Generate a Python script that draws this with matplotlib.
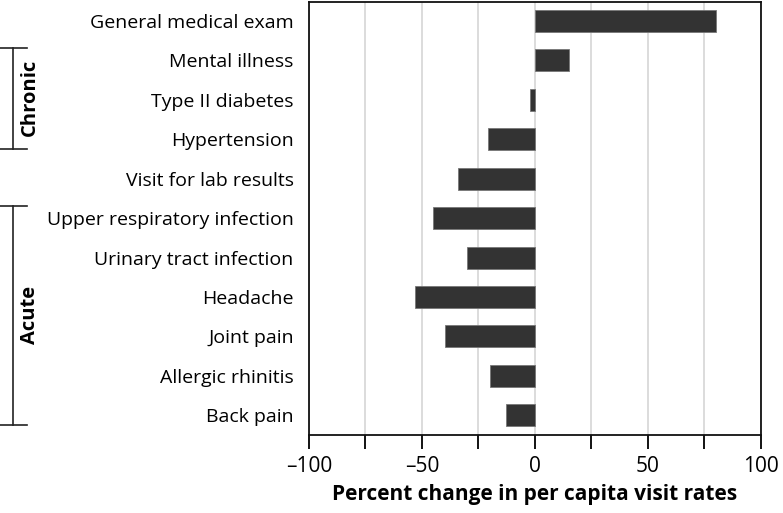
import numpy as np
import matplotlib
matplotlib.use("Agg")
import matplotlib.pyplot as plt
import matplotlib.transforms as mtransforms

plt.rcParams['font.family'] = ['Open Sans', 'DejaVu Sans']

conditions = ["General medical exam", "Mental illness", "Type II diabetes",
              "Hypertension", "Visit for lab results", "Upper respiratory infection",
              "Urinary tract infection", "Headache", "Joint pain",
              "Allergic rhinitis", "Back pain"]
pct_change = [80, 15, -2, -21, -34, -45, -30, -53, -40, -20, -13]

# brackets: (label, first row, last row)
groups = [("Chronic", 1, 3), ("Acute", 5, 10)]

fig = plt.figure(figsize=(7.83, 5.13), dpi=100)
ax = fig.add_axes([0.3946, 0.152, 0.5773, 0.844])

y = np.arange(len(conditions))
ax.barh(y, pct_change, height=0.56, color='#333333', edgecolor='#777777',
        linewidth=0.6, zorder=3)

ax.set_xlim(-100, 100)
ax.set_ylim(len(conditions) - 0.5, -0.48)
ax.set_xticks(np.arange(-100, 101, 25))
ax.set_xticklabels(['\u2013100' if v == -100 else '\u201350' if v == -50 else str(v)
                    if v % 50 == 0 else '' for v in range(-100, 101, 25)])
ax.xaxis.grid(True, color='#d9d9d9', linewidth=1.3, zorder=0)
ax.set_yticks(y)
ax.set_yticklabels(conditions, fontsize=14)
ax.tick_params(axis='y', length=0, pad=11)
ax.tick_params(axis='x', direction='out', length=10, width=1.3, labelsize=15, pad=5)
for s in ax.spines.values():
    s.set_linewidth(1.3)
    s.set_color('#111111')
ax.set_xlabel('Percent change in per capita visit rates', fontsize=15,
              fontweight='bold', labelpad=5)

# group brackets on the left margin
tr = mtransforms.blended_transform_factory(fig.transFigure, ax.transData)
xl = 13 / 783
xt = 27 / 783
for name, r0, r1 in groups:
    top = r0 - 0.32
    bot = r1 + 0.25
    ax.plot([xl, xl], [top, bot], color='#222222', lw=1.2, transform=tr, clip_on=False)
    ax.plot([0, xt], [top, top], color='#222222', lw=1.2, transform=tr, clip_on=False)
    ax.plot([0, xt], [bot, bot], color='#222222', lw=1.2, transform=tr, clip_on=False)
    ax.text(30 / 783, (r0 + r1) / 2 - 0.05, name, rotation=90, transform=tr,
            ha='center', va='center', fontsize=14.5, fontweight='bold')

fig.savefig('out.png', dpi=100)
